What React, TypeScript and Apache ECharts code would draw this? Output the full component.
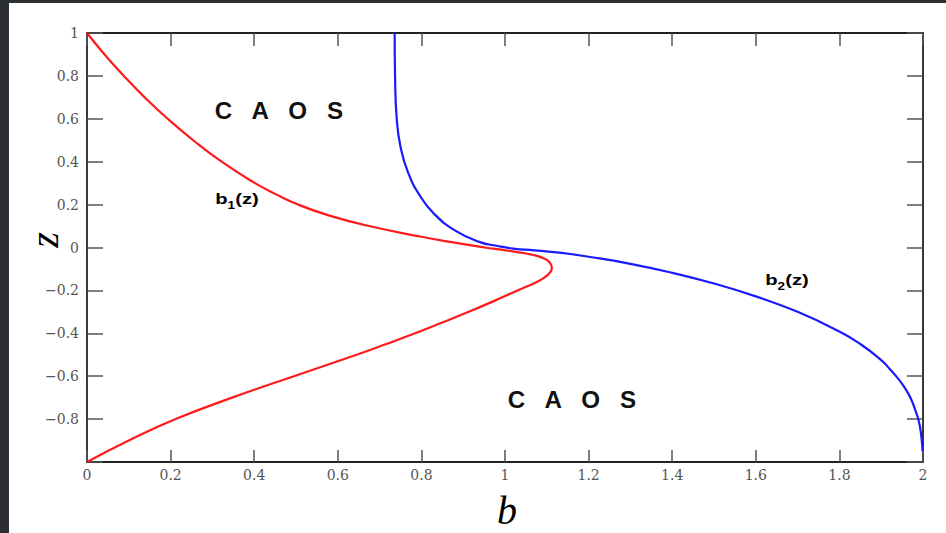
import React, { useEffect, useRef } from "react";
import * as echarts from "echarts";

// b1(z): red curve, (z, b) pairs
const redZ = [1, 0.9, 0.8, 0.7, 0.6, 0.5, 0.4, 0.3, 0.25, 0.2, 0.15, 0.1, 0.05, 0.025, 0, -0.01, -0.02, -0.035, -0.05, -0.07, -0.097, -0.12, -0.14, -0.16, -0.18, -0.2, -0.25, -0.3, -0.35, -0.4, -0.45, -0.5, -0.6, -0.7, -0.8, -0.9, -1];
const redB = [0, 0.042, 0.088, 0.138, 0.193, 0.254, 0.322, 0.402, 0.45, 0.505, 0.578, 0.675, 0.8, 0.872, 0.952, 0.99, 1.025, 1.068, 1.092, 1.107, 1.112, 1.106, 1.094, 1.077, 1.055, 1.03, 0.973, 0.913, 0.85, 0.785, 0.716, 0.645, 0.495, 0.347, 0.212, 0.1, 0];

// b2(z): blue curve
const blueZ = [1, 0.8, 0.6, 0.47, 0.35, 0.24, 0.16, 0.08, 0.025, 0.008, -0.005, -0.013, -0.024, -0.043, -0.076, -0.118, -0.168, -0.228, -0.3, -0.392, -0.45, -0.525, -0.565, -0.61, -0.65, -0.7, -0.75, -0.81, -0.88, -0.95];
const blueB = [0.736, 0.737, 0.741, 0.75, 0.768, 0.797, 0.829, 0.88, 0.94, 0.98, 1.02, 1.07, 1.13, 1.2, 1.3, 1.4, 1.5, 1.6, 1.7, 1.8, 1.85, 1.9, 1.92, 1.94, 1.955, 1.97, 1.98, 1.99, 1.996, 1.999];

const xTicks = { min: 0, max: 2, interval: 0.2 };
const yTicks = { min: -1, max: 1, interval: 0.2 };

const fmt = (v: number) => {
  const r = Math.round(v * 10) / 10;
  const s = Number.isInteger(r) ? String(Math.abs(r)) : Math.abs(r).toFixed(1);
  return r < 0 ? "\u2212" + s : s;
};

export default function App() {
  const ref = useRef<HTMLDivElement>(null);
  useEffect(() => {
    const chart = echarts.init(ref.current!, null, { renderer: "svg" });
    const axisLine = { show: true, onZero: false, lineStyle: { color: "#222", width: 1.8 } };
    const tick = (len: number) => ({ inside: true, length: len, lineStyle: { color: "#555", width: 1.5 } });
    const labelStyle = { color: "#555", fontFamily: "DejaVu Serif", fontSize: 14 };
    const subRich = {
      n: { fontFamily: "Liberation Sans", fontWeight: "bold", fontSize: 15, lineHeight: 20, verticalAlign: "top", color: "#111" },
      s: { fontFamily: "Liberation Sans", fontWeight: "bold", fontSize: 10, lineHeight: 20, verticalAlign: "bottom", color: "#111" },
    };
    chart.setOption({
      animation: false,
      backgroundColor: "#fff",
      grid: { left: 87, right: 23, top: 33, bottom: 71 },
      xAxis: [
        {
          type: "value", ...xTicks, position: "bottom",
          axisLine, splitLine: { show: false }, axisTick: tick(12),
          axisLabel: { ...labelStyle, margin: 6, formatter: fmt },
        },
        {
          type: "value", ...xTicks, position: "top",
          axisLine, splitLine: { show: false }, axisTick: tick(13),
          axisLabel: { show: false },
        },
      ],
      yAxis: [
        {
          type: "value", ...yTicks, position: "left",
          axisLine, splitLine: { show: false }, axisTick: tick(16),
          axisLabel: { ...labelStyle, margin: 8, formatter: (v: number) => (v <= -0.99 ? "" : fmt(v)) },
        },
        {
          type: "value", ...yTicks, position: "right",
          axisLine, splitLine: { show: false }, axisTick: tick(16),
          axisLabel: { show: false },
        },
      ],
      series: [
        {
          name: "b1(z)", type: "line", xAxisIndex: 0, yAxisIndex: 0,
          data: redZ.map((z, i) => [redB[i], z]),
          showSymbol: false, smooth: 0.5,
          lineStyle: { color: "#ff1a1a", width: 2.2 },
        },
        {
          name: "b2(z)", type: "line", xAxisIndex: 0, yAxisIndex: 0,
          data: blueZ.map((z, i) => [blueB[i], z]),
          showSymbol: false, smooth: 0.5,
          lineStyle: { color: "#1a1aff", width: 2.2 },
        },
      ],
      graphic: [
        { type: "rect", shape: { x: 0, y: 0, width: 9, height: 533 }, style: { fill: "#2b2f33" }, silent: true },
        { type: "rect", shape: { x: 0, y: 0, width: 946, height: 3 }, style: { fill: "#2b2f33" }, silent: true },
        {
          type: "text", x: 279, y: 111, scaleX: 1.05,
          style: { text: "C   A   O   S", fill: "#111", font: "bold 23px 'Liberation Sans'", align: "center", verticalAlign: "middle" },
        },
        {
          type: "text", x: 572, y: 400, scaleX: 1.05,
          style: { text: "C   A   O   S", fill: "#111", font: "bold 23px 'Liberation Sans'", align: "center", verticalAlign: "middle" },
        },
        {
          type: "text", x: 237, y: 201, scaleX: 1.35,
          style: { text: "{n|b}{s|1}{n|(z)}", align: "center", verticalAlign: "middle", rich: subRich },
        },
        {
          type: "text", x: 787, y: 282, scaleX: 1.35,
          style: { text: "{n|b}{s|2}{n|(z)}", align: "center", verticalAlign: "middle", rich: subRich },
        },
        {
          type: "text", x: 507, y: 510,
          style: { text: "b", fill: "#000", font: "italic 40px 'Liberation Serif'", align: "center", verticalAlign: "middle" },
        },
        {
          type: "text", x: 44, y: 240, rotation: Math.PI / 2,
          style: { text: "z", fill: "#000", font: "italic 40px 'Liberation Serif'", align: "center", verticalAlign: "middle" },
        },
      ],
    });
    return () => chart.dispose();
  }, []);
  return <div ref={ref} style={{ position: "fixed", left: 0, top: 0, width: 946, height: 533 }} />;
}
